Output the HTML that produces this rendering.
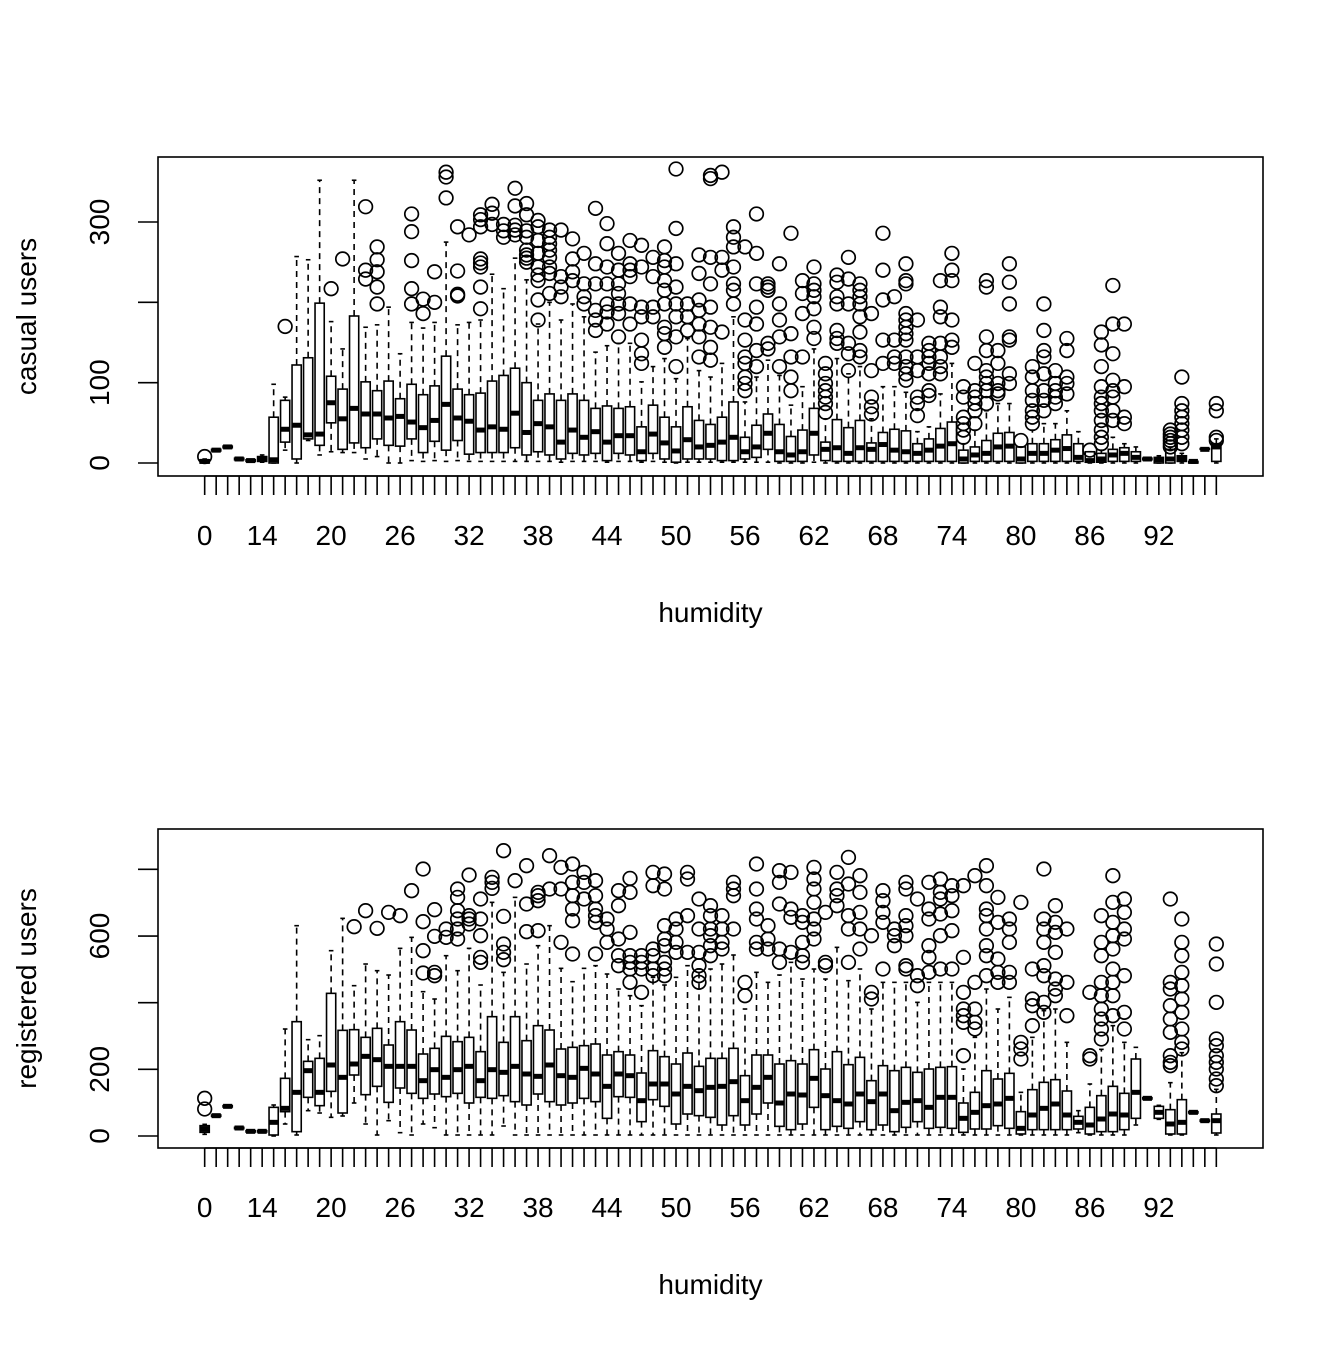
<!DOCTYPE html>
<html><head><meta charset="utf-8"><style>
html,body{margin:0;padding:0;background:#fff;}
svg text{font-family:"Liberation Sans",Arial,sans-serif;fill:#000;}
</style></head><body>
<svg id="chart" width="1344" height="1344" viewBox="0 0 1344 1344" xmlns="http://www.w3.org/2000/svg">
<rect x="0" y="0" width="1344" height="1344" fill="#fff"/>
</svg>
<script>
const humidity = [0,8,10,12,13,14,15,16,17,18,19,20,21,22,23,24,25,26,27,28,29,30,31,32,33,34,35,36,37,38,39,40,41,42,43,44,45,46,47,48,49,50,51,52,53,54,55,56,57,58,59,60,61,62,63,64,65,66,67,68,69,70,71,72,73,74,75,76,77,78,79,80,81,82,83,84,85,86,87,88,89,90,91,92,93,94,96,97,100];
const xTickLabels = [0,14,20,26,32,38,44,50,56,62,68,74,80,86,92];
const casualTicks = [0,100,200,300];
const casualTickLabels = ["0","100","","300"];
const regTicks = [0,200,400,600,800];
const regTickLabels = ["0","200","","600",""];

const casualQ1 = [0,15,19,4,2,2,0,26,5,30,22,50,17,25,19,30,22,21,30,13,27,16,28,11,13,13,13,19,10,14,10,5,12,10,12,3,12,10,3,12,5,1,5,5,5,3,3,5,7,17,2,2,2,10,3,2,2,2,2,2,2,2,2,2,2,2,0,2,2,2,2,0,2,2,2,2,2,1,1,2,2,2,4,0,0,2,0,17,2];
const casualMed = [2,16,20,5,3,5,4,42,47,35,36,75,55,68,61,61,56,58,51,44,53,73,56,52,41,45,42,62,38,49,45,26,41,32,39,26,34,34,14,36,25,15,29,20,22,26,32,14,20,37,14,10,14,37,17,19,12,19,17,23,16,14,12,16,21,24,5,10,12,20,21,5,12,12,16,18,7,3,5,10,12,7,5,4,5,5,2,17,20];
const casualQ3 = [4,17,21,6,4,8,57,78,122,131,199,108,92,183,101,90,102,80,98,85,96,133,92,85,87,102,109,118,100,78,86,78,86,78,68,71,68,70,45,72,57,45,70,53,48,57,76,32,47,61,48,33,41,68,26,54,44,53,25,38,42,40,24,30,43,51,16,20,28,37,38,20,24,24,29,35,24,14,12,17,19,14,6,7,17,9,2,18,24];
const casualLo = [0,15,19,4,2,1,0,16,0,28,10,14,13,13,5,8,0,0,3,2,3,2,3,2,2,2,2,2,2,2,2,1,2,2,2,1,2,2,1,2,1,0,1,1,1,1,1,1,1,1,0,0,0,1,0,0,0,0,0,0,0,0,0,0,0,0,0,0,0,0,0,0,0,0,0,0,0,0,0,0,0,0,3,0,0,0,0,16,0];
const casualHi = [5,17,21,6,4,10,98,82,257,253,352,176,142,352,169,172,194,136,175,168,175,275,172,175,178,235,217,255,228,173,200,178,198,182,138,146,149,149,101,120,130,105,155,115,107,124,182,76,107,128,109,72,95,142,55,130,111,120,55,95,95,88,39,45,86,124,24,41,65,74,74,20,41,49,49,65,39,14,16,32,24,20,7,9,20,12,3,18,30];
const casualOut = [[8],[],[],[],[],[],[],[170],[],[],[],[217],[254],[],[319,240,229],[269,253,238,219,198],[],[],[310,288,252,217,198],[204,186],[238,200],[362,356,330],[294,239,210,208],[284],[309,303,294,254,249,244,219,192],[322,311,297],[297,289,281],[342,320,296,290,284],[323,309,289,281,265,259,255,250],[302,294,277,261,244,234,227,203,178],[290,281,273,265,256,244,236,211],[290,232,219,207],[279,254,238,227],[261,223,207,198],[317,248,223,190,178,165],[298,273,244,223,198,188,173],[261,240,223,211,198,186,157],[277,248,240,232,198,173],[271,244,194,182,153,136,124],[256,232,194,182],[269,252,244,227,215,198,169,161,144],[366,292,248,219,198,182,157,120],[198,182,165],[259,236,203,190,173,157,132],[358,354,256,223,194,169,144,128],[362,256,240,163],[294,281,269,244,223,215,198],[269,178,153,132,124,107,99,90],[310,261,223,194,173,140,120],[223,219,215,149,142],[248,198,178,157,120],[286,161,132,107,90],[227,211,186,132],[244,223,215,207,192,169,155],[124,111,99,90,82,74,63],[234,225,207,198,165,155,149],[256,229,198,149,136,115],[223,215,207,198,182,163,140,132],[186,115,82,70,61],[286,240,203,153,124],[207,153,132,124],[248,227,223,186,178,169,161,153,132,120,111,103],[178,132,115,82,74,59],[149,140,132,124,111,90,84],[227,194,182,149,132,120,111],[261,240,227,178,153,144],[95,82,57,49,41,32],[124,90,82,74,65,49],[227,219,157,140,115,107,99,90,74],[140,124,99,90,86],[248,225,198,157,153,111,99],[28],[120,107,90,78,65,57,49],[198,165,140,132,111,90,78,65],[115,99,90,82,74],[155,140,107,99,86],[],[16],[163,147,120,95,82,74,65,53,41,32,24],[221,173,136,103,90,82,65,53],[173,95,57,49],[],[],[],[41,36,32,28,24,20],[107,74,65,57,49,41,32,24],[],[],[74,65,32,28]];

const regQ1 = [11,59,87,22,12,12,3,73,13,116,91,134,69,183,124,149,101,144,128,113,126,118,128,99,116,113,121,103,93,126,103,93,99,113,103,53,118,116,43,109,89,36,66,61,56,33,61,33,66,99,29,19,36,86,19,29,23,43,19,33,13,26,43,23,26,23,11,21,21,31,23,6,19,19,19,19,21,6,13,13,19,53,111,53,6,6,69,44,9];
const regMed = [21,61,89,24,14,14,41,83,131,196,131,213,176,216,239,229,209,209,209,166,199,176,199,209,166,199,191,209,186,179,213,181,176,203,186,149,186,181,106,156,156,126,149,136,146,149,163,106,146,176,99,126,123,173,121,106,96,126,103,126,76,101,106,86,116,116,53,71,91,96,113,23,63,83,96,63,41,33,51,66,63,131,113,71,36,41,71,46,46];
const regQ3 = [31,63,91,26,16,16,86,173,343,224,233,428,317,319,296,323,273,343,318,246,263,299,283,296,253,358,281,358,286,331,318,261,266,271,276,243,253,243,189,256,238,216,249,209,233,233,263,181,243,243,216,226,216,259,201,253,214,236,166,211,196,206,191,201,206,208,99,131,196,171,188,73,139,161,169,135,59,86,121,149,128,231,115,89,79,109,73,48,66];
const regLo = [5,58,86,21,11,11,0,36,3,76,69,56,60,99,36,3,46,10,3,36,25,3,3,3,3,3,30,3,3,3,3,3,3,3,3,3,3,3,3,3,3,3,3,3,3,3,3,3,3,3,3,3,3,3,3,3,3,3,3,3,3,3,3,3,3,3,3,3,3,3,3,3,3,3,3,3,10,3,3,3,3,33,110,50,3,3,68,43,3];
const regHi = [35,64,92,27,17,17,93,321,631,289,301,556,653,451,516,496,483,563,596,433,411,541,496,563,453,701,491,716,516,571,631,503,463,503,511,486,441,421,391,476,453,476,511,501,501,516,543,381,491,461,483,521,471,501,471,566,466,501,381,461,461,461,401,461,461,461,201,296,441,381,416,131,296,376,381,281,76,156,260,331,281,266,116,92,160,250,74,49,140];
const regOut = [[113,81],[],[],[],[],[],[],[],[],[],[],[],[],[628],[676],[623],[671],[661],[736],[801,643,556,489],[679,599,491,481],[621,596],[741,716,676,651,621,591],[783,661,651,636],[711,651,601,536,521],[776,761,743],[856,659,576,551,529],[766],[811,696,613],[731,721,706,616],[841,741],[806,741,581],[816,761,721,681,646,546],[791,761,711],[766,721,681,661,641,546],[651,621,581],[736,691,591,541,511],[773,731,611,541,521,501,461],[541,521,501,431],[791,751,561,541,501,481],[786,741,631,591,571,521,501,481],[651,621,581,551],[791,771,661,551],[711,621,551,511,481,461],[691,661,621,601,571,541],[661,621,581,561],[761,741,721,621],[461,421],[816,741,681,651,581,561],[631,591,561],[796,761,696,561,521],[791,681,656,551],[661,641,581,541,521],[806,771,741,701,651,621,591],[671,521,511],[791,741,721,691],[836,756,661,621,521],[781,731,671,621,561],[601,431,411],[736,706,671,641,501],[621,601,571],[761,741,661,631,601,511,501],[711,481,451],[761,681,651,571,536,491],[771,731,711,666,601,501],[751,721,676,616,501],[751,536,431,381,361,341,241],[781,461,381,341,321],[811,751,681,661,621,571,541,481],[716,641,531,491,461],[651,621,581,491,461],[701,281,261,231],[501,411,391,331],[801,651,621,581,511,481,401,371],[691,641,611,551,471,441,421],[621,461,361],[],[431,241,231],[661,581,541,461,421,381,351,321,291],[781,701,641,601,561,501,461,421,361],[711,671,621,591,481,371,321],[],[],[],[711,461,441,391,351,311,241,221,211],[651,581,541,491,451,411,371,321,281,261],[],[],[576,516,401,291,271,241,221,201,171,151]];

const NS = "http://www.w3.org/2000/svg";
const svg = document.getElementById("chart");
function mk(tag, attrs, parent) {
  const e = document.createElementNS(NS, tag);
  for (const k in attrs) e.setAttribute(k, attrs[k]);
  (parent || svg).appendChild(e);
  return e;
}
const n = humidity.length;
const plotL = 158, plotR = 1263;
const unit = (plotR - plotL) / (n * 1.08);
function xScale(i) { return plotL + (i + 0.5 + n * 0.04) * unit; }

function drawPanel(cfg) {
  const g = mk("g", {});
  
  
  const yS = v => cfg.y0 - v * cfg.k;
  const half = unit * 0.4, stap = unit * 0.2;
  for (let i = 0; i < n; i++) {
    const cx = xScale(i);
    const bg = mk("g", {}, g);
    
    
    const q1 = cfg.q1[i], q3 = cfg.q3[i], md = cfg.med[i], lo = cfg.lo[i], hi = cfg.hi[i];
    if (hi > q3) mk("line", {x1:cx,x2:cx,y1:yS(q3),y2:yS(hi),stroke:"#000","stroke-width":1.6,"stroke-dasharray":"6,5"}, bg);
    if (lo < q1) mk("line", {x1:cx,x2:cx,y1:yS(q1),y2:yS(lo),stroke:"#000","stroke-width":1.6,"stroke-dasharray":"6,5"}, bg);
    mk("line", {x1:cx-stap,x2:cx+stap,y1:yS(hi),y2:yS(hi),stroke:"#000","stroke-width":1.6}, bg);
    mk("line", {x1:cx-stap,x2:cx+stap,y1:yS(lo),y2:yS(lo),stroke:"#000","stroke-width":1.6}, bg);
    mk("rect", {x:cx-half,y:yS(q3),width:2*half,height:Math.max(0.5,yS(q1)-yS(q3)),fill:"#fff",stroke:"#000","stroke-width":1.6}, bg);
    mk("line", {x1:cx-half,x2:cx+half,y1:yS(md),y2:yS(md),stroke:"#000","stroke-width":5}, bg);
    cfg.out[i].forEach(v => {
      const c = mk("circle", {cx:cx,cy:yS(v),r:6.8,fill:"none",stroke:"#000","stroke-width":1.7}, bg);
      
      
    });
  }
  const frame = mk("rect", {x:plotL,y:cfg.top,width:plotR-plotL,height:cfg.bot-cfg.top,fill:"none",stroke:"#000","stroke-width":1.6}, g);
  
  
  const ya = mk("g", {}, g);
  
  
  cfg.ticks.forEach((t, j) => {
    const y = yS(t);
    mk("line", {x1:138,x2:plotL,y1:y,y2:y,stroke:"#000","stroke-width":1.6}, ya);
    if (cfg.tickLabels[j]) {
      const tx = mk("text", {x:0,y:0,"font-size":28,"text-anchor":"middle",transform:`translate(109,${y}) rotate(-90)`}, ya);
      tx.textContent = cfg.tickLabels[j];
    }
  });
  const yt = mk("text", {x:0,y:0,"font-size":28,"text-anchor":"middle",transform:`translate(36,${(cfg.top+cfg.bot)/2}) rotate(-90)`}, g);
  
  
  yt.textContent = cfg.ylab;
  const xa = mk("g", {}, g);
  
  
  mk("line", {x1:xScale(0),x2:xScale(n-1),y1:cfg.bot,y2:cfg.bot,stroke:"#000","stroke-width":1.6}, xa);
  for (let i = 0; i < n; i++) {
    const cx = xScale(i);
    mk("line", {x1:cx,x2:cx,y1:cfg.bot,y2:cfg.bot+19,stroke:"#000","stroke-width":1.6}, xa);
    if (xTickLabels.indexOf(humidity[i]) >= 0) {
      const tx = mk("text", {x:cx,y:cfg.bot+69,"font-size":28,"text-anchor":"middle"}, xa);
      tx.textContent = String(humidity[i]);
    }
  }
  const xt = mk("text", {x:(plotL+plotR)/2,y:cfg.bot+146,"font-size":28,"text-anchor":"middle"}, g);
  
  
  xt.textContent = "humidity";
}

drawPanel({name:"casual-users-panel", top:157, bot:476, y0:463, k:0.8033,
  q1:casualQ1, med:casualMed, q3:casualQ3, lo:casualLo, hi:casualHi, out:casualOut,
  ticks:casualTicks, tickLabels:casualTickLabels, ylab:"casual users"});
drawPanel({name:"registered-users-panel", top:829, bot:1148, y0:1136, k:0.3333,
  q1:regQ1, med:regMed, q3:regQ3, lo:regLo, hi:regHi, out:regOut,
  ticks:regTicks, tickLabels:regTickLabels, ylab:"registered users"});
</script>
</body></html>
